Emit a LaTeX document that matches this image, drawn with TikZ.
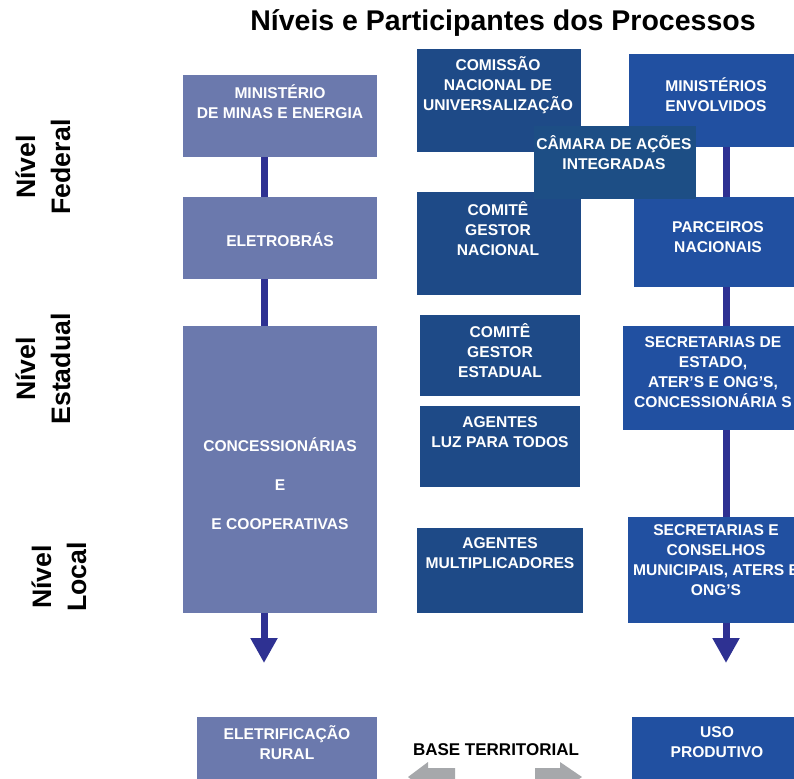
\documentclass[tikz,border=0pt]{standalone}
\usepackage{fontspec}
\setmainfont{Liberation Sans}
\usetikzlibrary{arrows.meta}
\definecolor{slate}{HTML}{6B79AD}
\definecolor{navy}{HTML}{1E4A87}
\definecolor{camc}{HTML}{1D4E85}
\definecolor{royal}{HTML}{2150A1}
\definecolor{connc}{HTML}{2E3192}
\definecolor{grayarr}{HTML}{A6A8AB}
\begin{document}
\begin{tikzpicture}[x=1pt,y=-1pt,
  box/.style={anchor=north west, inner sep=0pt, outer sep=0pt, draw=none},
  lbox/.style={box, fill=slate},
  mbox/.style={box, fill=navy},
  cbox/.style={box, fill=camc},
  rbox/.style={box, fill=royal},
  btxt/.style={text=white, font=\fontsize{15.6pt}{20pt}\selectfont\bfseries, align=center, inner sep=0pt},
  side/.style={font=\fontsize{26.7pt}{35pt}\selectfont\bfseries, align=center, rotate=90, inner sep=0pt},
  connline/.style={draw=connc, line width=7pt},
  connarrow/.style={connline, -{Triangle[width=25.6pt,length=25pt]}},
  garrow/.style={fill=grayarr, draw=none}]
\useasboundingbox (0,0) rectangle (794,778);
\clip (0,0) rectangle (794,778);
\fill[white] (0,0) rectangle (794,778);

% title
\node[font=\fontsize{28.5pt}{34pt}\selectfont\bfseries, anchor=base, inner sep=0pt] (title) at (503,31) {Níveis e Participantes dos Processos};

% side labels
\node[side] (lfed) at (43,167) {Nível\\Federal};
\node[side] (lest) at (43,369) {Nível\\Estadual};
\node[side] (lloc) at (59,577) {Nível\\Local};

% left column
\node[lbox, minimum width=194pt, minimum height=82pt] (mme) at (183,75) {};
\node[lbox, minimum width=194pt, minimum height=82pt] (eletro) at (183,197) {};
\node[lbox, minimum width=194pt, minimum height=287pt] (conc) at (183,326) {};
\node[lbox, minimum width=180pt, minimum height=73pt] (eletr) at (197,717) {};

% middle column
\node[mbox, minimum width=164pt, minimum height=103pt] (comissao) at (417,49) {};
\node[mbox, minimum width=164pt, minimum height=103pt] (cgn) at (417,192) {};
\node[mbox, minimum width=160pt, minimum height=81pt] (cge) at (420,315) {};
\node[mbox, minimum width=160pt, minimum height=81pt] (agl) at (420,406) {};
\node[mbox, minimum width=166pt, minimum height=85pt] (agm) at (417,528) {};

% right column
\node[rbox, minimum width=171pt, minimum height=93pt] (min) at (629,54) {};
\node[rbox, minimum width=166pt, minimum height=90pt] (parc) at (634,197) {};
\node[rbox, minimum width=177pt, minimum height=104pt] (sece) at (623,326) {};
\node[rbox, minimum width=172pt, minimum height=106pt] (secm) at (628,517) {};
\node[rbox, minimum width=168pt, minimum height=73pt] (uso) at (632,717) {};

% camara on top
\node[cbox, minimum width=162pt, minimum height=73pt] (camara) at (534,126) {};

% connectors
\coordinate (cL) at (264,0);
\coordinate (cR) at (726,0);
\coordinate (endL) at (264,663);
\coordinate (endR) at (726,663);
\draw[connline] (mme.south -| cL) -- (eletro.north -| cL);
\draw[connline] (eletro.south -| cL) -- (conc.north -| cL);
\draw[connarrow] (conc.south -| cL) -- (endL);
\draw[connline] (min.south -| cR) -- (parc.north -| cR);
\draw[connline] (parc.south -| cR) -- (sece.north -| cR);
\draw[connline] (sece.south -| cR) -- (secm.north -| cR);
\draw[connarrow] (secm.south -| cR) -- (endR);

% box texts
\node[btxt] (mmeT) at (280,101.5) {MINISTÉRIO\\DE MINAS E ENERGIA};
\node[btxt] (eletroT) at (280,240) {ELETROBRÁS};
\node[btxt] (concT) at (280,484) {CONCESSIONÁRIAS\\[19pt]E\\[19pt]E COOPERATIVAS};
\node[btxt] (eletrT) at (287,742.5) {ELETRIFICAÇÃO\\RURAL};
\node[btxt] (comT) at (498,85) {COMISSÃO\\NACIONAL DE\\UNIVERSALIZAÇÃO};
\node[btxt] (cgnT) at (498,229) {COMITÊ\\GESTOR\\NACIONAL};
\node[btxt] (cgeT) at (500,351) {COMITÊ\\GESTOR\\ESTADUAL};
\node[btxt] (aglT) at (500,432.5) {AGENTES\\LUZ PARA TODOS};
\node[btxt] (agmT) at (500,553) {AGENTES\\MULTIPLICADORES};
\node[btxt] (minT) at (716,95) {MINISTÉRIOS\\ENVOLVIDOS};
\node[btxt] (parcT) at (718,237.5) {PARCEIROS\\NACIONAIS};
\node[btxt] (seceT) at (713,372) {SECRETARIAS DE\\ESTADO,\\ATER’S E ONG’S,\\CONCESSIONÁRIA S};
\node[btxt] (secmT) at (716,560) {SECRETARIAS E\\CONSELHOS\\MUNICIPAIS, ATERS E\\ONG’S};
\node[btxt] (usoT) at (717,742.5) {USO\\PRODUTIVO};
\node[btxt] (camT) at (614,152.5) {CÂMARA DE AÇÕES\\INTEGRADAS};

% base territorial
\node[font=\fontsize{17pt}{20pt}\selectfont\bfseries, anchor=base, inner sep=0pt] (baseT) at (496,755) {BASE TERRITORIAL};
\fill[garrow] (408,777) -- (428,762) -- (428,768) -- (455,768) -- (455,786) -- (428,786) -- (428,792) -- cycle;
\fill[garrow] (535,768) -- (560,768) -- (560,762) -- (582,777) -- (560,792) -- (560,786) -- (535,786) -- cycle;
\end{tikzpicture}
\end{document}
